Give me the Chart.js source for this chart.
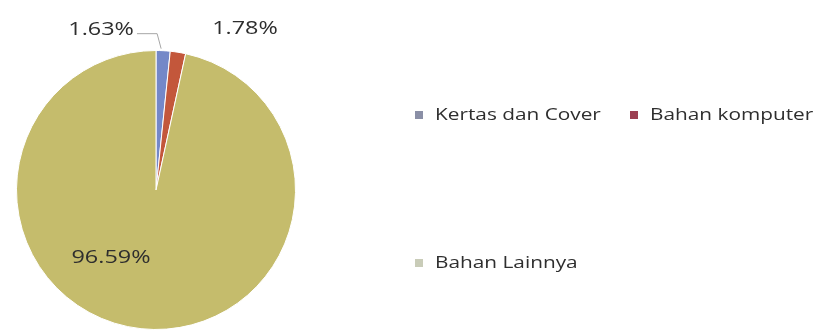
<!DOCTYPE html>
<html>
<head>
<meta charset="utf-8">
<title>Komposisi Bahan</title>
<script src="https://cdn.jsdelivr.net/npm/chart.js@4/dist/chart.umd.min.js"></script>
<style>
  html, body { margin: 0; padding: 0; background: #ffffff; overflow: hidden; }
  #wrap { position: relative; width: 818px; height: 332px; }
</style>
</head>
<body>
<div id="wrap"><canvas id="c" width="818" height="332"></canvas></div>
<script>
// Data
const categories = ['Kertas dan Cover', 'Bahan komputer', 'Bahan Lainnya'];
const shares = [1.63, 1.78, 96.59];

// Styling
const sliceColors = ['#7488c8', '#c3573b', '#c5bc6c'];
const legendColors = ['#8a8fa6', '#9c3f52', '#c9ccb8'];
const textColor = '#2e2e2e';
const TEXT_STRETCH = 1.3;
const LEGEND_FONT = '16px "Open Sans", "Noto Sans", sans-serif';
const LABEL_FONT = '18px "Open Sans", "Noto Sans", sans-serif';

// Value label placement: point on the slice (radius factor, angle shift) plus pixel offset
const labelPlacement = [
  { rf: 1.0, da: 0, dx: -62, dy: -21 },
  { rf: 1.0, da: 0, dx: 67, dy: -23 },
  { rf: 0.0, da: 0, dx: -45, dy: 68 }
];
// Legend slots (marker left edge, row centre)
const legendSlots = [
  { x: 415, y: 115 },
  { x: 630, y: 115 },
  { x: 415, y: 263 }
];

function stretchedText(ctx, text, x, y, align) {
  ctx.save();
  ctx.translate(x, y);
  ctx.scale(TEXT_STRETCH, 1);
  ctx.textAlign = align;
  ctx.textBaseline = 'middle';
  ctx.fillText(text, 0, 0);
  ctx.restore();
}

const pieDecor = {
  id: 'pieDecor',
  afterDatasetsDraw(chart) {
    const ctx = chart.ctx;
    const meta = chart.getDatasetMeta(0);
    ctx.save();
    ctx.font = LABEL_FONT;
    ctx.fillStyle = textColor;
    meta.data.forEach((arc, i) => {
      const p = arc.getProps(['x', 'y', 'startAngle', 'endAngle', 'outerRadius'], true);
      const mid = (p.startAngle + p.endAngle) / 2 + labelPlacement[i].da;
      const r = p.outerRadius * labelPlacement[i].rf;
      const ax = p.x + Math.cos(mid) * r;
      const ay = p.y + Math.sin(mid) * r;
      const lx = ax + labelPlacement[i].dx;
      const ly = ay + labelPlacement[i].dy;
      const text = shares[i].toFixed(2) + '%';
      stretchedText(ctx, text, lx, ly, 'center');
      if (i === 0) {
        // leader line from the label to its slice
        const w = ctx.measureText(text).width * TEXT_STRETCH;
        ctx.save();
        ctx.strokeStyle = '#a6a6a6';
        ctx.lineWidth = 1;
        ctx.beginPath();
        ctx.moveTo(lx + w / 2 + 3, ly + 4);
        ctx.lineTo(ax - 6, ly + 4);
        ctx.lineTo(ax - 2, ay - 2);
        ctx.stroke();
        ctx.restore();
      }
    });
    // Legend
    ctx.font = LEGEND_FONT;
    chart.data.labels.forEach((name, i) => {
      const s = legendSlots[i];
      ctx.fillStyle = legendColors[i];
      ctx.fillRect(s.x, s.y - 4, 8, 8);
      ctx.fillStyle = textColor;
      stretchedText(ctx, name, s.x + 20, s.y, 'left');
    });
    ctx.restore();
  }
};

new Chart(document.getElementById('c'), {
  type: 'pie',
  data: {
    labels: categories,
    datasets: [{
      data: shares,
      backgroundColor: sliceColors,
      borderColor: '#ffffff',
      borderWidth: 1
    }]
  },
  options: {
    responsive: false,
    animation: false,
    devicePixelRatio: 1,
    layout: { padding: { left: 16, top: 50, right: 522, bottom: 2 } },
    plugins: {
      legend: { display: false },
      tooltip: { enabled: false }
    }
  },
  plugins: [pieDecor]
});
</script>
</body>
</html>
